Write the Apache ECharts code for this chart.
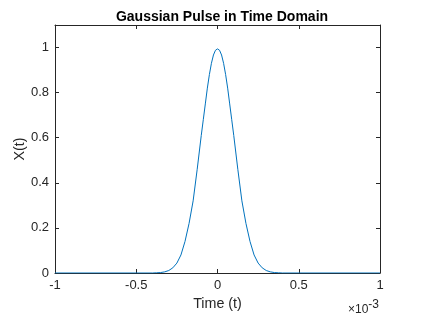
<!DOCTYPE html>
<html>
<head>
<meta charset="utf-8">
<script src="https://cdn.jsdelivr.net/npm/echarts@6/dist/echarts.min.js"></script>
<style>html,body{margin:0;padding:0;background:#fff;}#c{width:421px;height:316px;}</style>
</head>
<body>
<div id="c"></div>
<script>
// time samples (seconds) and pulse values
var timeSec = [-0.001, -0.0004, -0.000375, -0.00035, -0.000325, -0.0003, -0.000275, -0.00025, -0.000225, -0.0002, -0.000175, -0.00015, -0.000125,
  -0.0001, -0.0000875, -0.000075, -0.0000625, -0.00005, -0.0000375, -0.000025, -0.0000125, 0,
  0.0000125, 0.000025, 0.0000375, 0.00005, 0.0000625, 0.000075, 0.0000875, 0.0001,
  0.000125, 0.00015, 0.000175, 0.0002, 0.000225, 0.00025, 0.000275, 0.0003, 0.000325, 0.00035, 0.000375, 0.0004, 0.001];
var pulse = [0, 0, 0.001, 0.002, 0.005, 0.011, 0.023, 0.044, 0.08, 0.14, 0.22, 0.32, 0.46,
  0.61, 0.68, 0.75, 0.82, 0.88, 0.93, 0.967, 0.988, 0.994,
  0.988, 0.967, 0.93, 0.88, 0.82, 0.75, 0.68, 0.61,
  0.46, 0.32, 0.22, 0.14, 0.08, 0.044, 0.023, 0.011, 0.005, 0.002, 0.001, 0, 0];
var xTicks = [-0.001, -0.0005, 0, 0.0005, 0.001];
var yTicks = [0, 0.2, 0.4, 0.6, 0.8, 1];

var data = timeSec.map(function (t, i) { return [t, pulse[i]]; });
var axisColor = '#262626';
var font = 'Liberation Sans, Arial, sans-serif';
var chart = echarts.init(document.getElementById('c'), null, {renderer: 'canvas'});
function baseAxisLine() { return {show: true, onZero: false, lineStyle: {color: axisColor, width: 1}}; }
function baseTick() { return {show: true, inside: true, length: 4, lineStyle: {color: axisColor}}; }
chart.setOption({
  animation: false,
  backgroundColor: '#ffffff',
  title: {
    text: 'Gaussian Pulse in Time Domain',
    left: 217, top: 5, textAlign: 'center',
    textStyle: {fontFamily: font, fontSize: 14, fontWeight: 'bold', color: '#000'}
  },
  grid: {left: 55, right: 41, top: 25, bottom: 43},
  xAxis: [{
    type: 'value', min: -0.001, max: 0.001, interval: 0.0005,
    position: 'bottom',
    axisLine: baseAxisLine(),
    axisTick: baseTick(),
    splitLine: {show: false},
    axisLabel: {
      color: axisColor, fontFamily: font, fontSize: 13, margin: 6,
      formatter: function (v) { return String(Math.round(v * 1e4) / 10); }
    },
    name: 'Time (t)', nameLocation: 'middle', nameGap: 23,
    nameTextStyle: {color: axisColor, fontFamily: font, fontSize: 14.3}
  }, {
    type: 'value', min: -0.001, max: 0.001, interval: 0.0005,
    position: 'top',
    axisLine: baseAxisLine(),
    axisTick: baseTick(),
    splitLine: {show: false}, axisLabel: {show: false}
  }],
  yAxis: [{
    type: 'value', min: 0, max: 1.1, interval: 0.2,
    position: 'left',
    axisLine: baseAxisLine(),
    axisTick: baseTick(),
    splitLine: {show: false},
    axisLabel: {color: axisColor, fontFamily: font, fontSize: 13, margin: 6,
      formatter: function (v) { return v > 1.05 ? '' : String(Math.round(v * 10) / 10); }},
    name: 'X(t)', nameLocation: 'middle', nameGap: 28, nameRotate: 90, nameMoveOverlap: false,
    nameTextStyle: {color: axisColor, fontFamily: font, fontSize: 14.3}
  }, {
    type: 'value', min: 0, max: 1.1, interval: 0.2,
    position: 'right',
    axisLine: baseAxisLine(),
    axisTick: baseTick(),
    splitLine: {show: false}, axisLabel: {show: false}
  }],
  graphic: [{
    type: 'text', left: 348, top: 299,
    style: {
      text: '{a|×10}{b|-3}',
      rich: {
        a: {fontFamily: font, fontSize: 12, fill: axisColor, color: axisColor},
        b: {fontFamily: font, fontSize: 12, fill: axisColor, color: axisColor, verticalAlign: 'top', padding: [0, 0, 9, 0]}
      }
    }
  }],
  series: [{
    type: 'line', data: data, xAxisIndex: 0, yAxisIndex: 0,
    showSymbol: false, symbol: 'none', smooth: false,
    lineStyle: {color: '#0072BD', width: 1},
    clip: true
  }]
});
</script>
</body>
</html>
